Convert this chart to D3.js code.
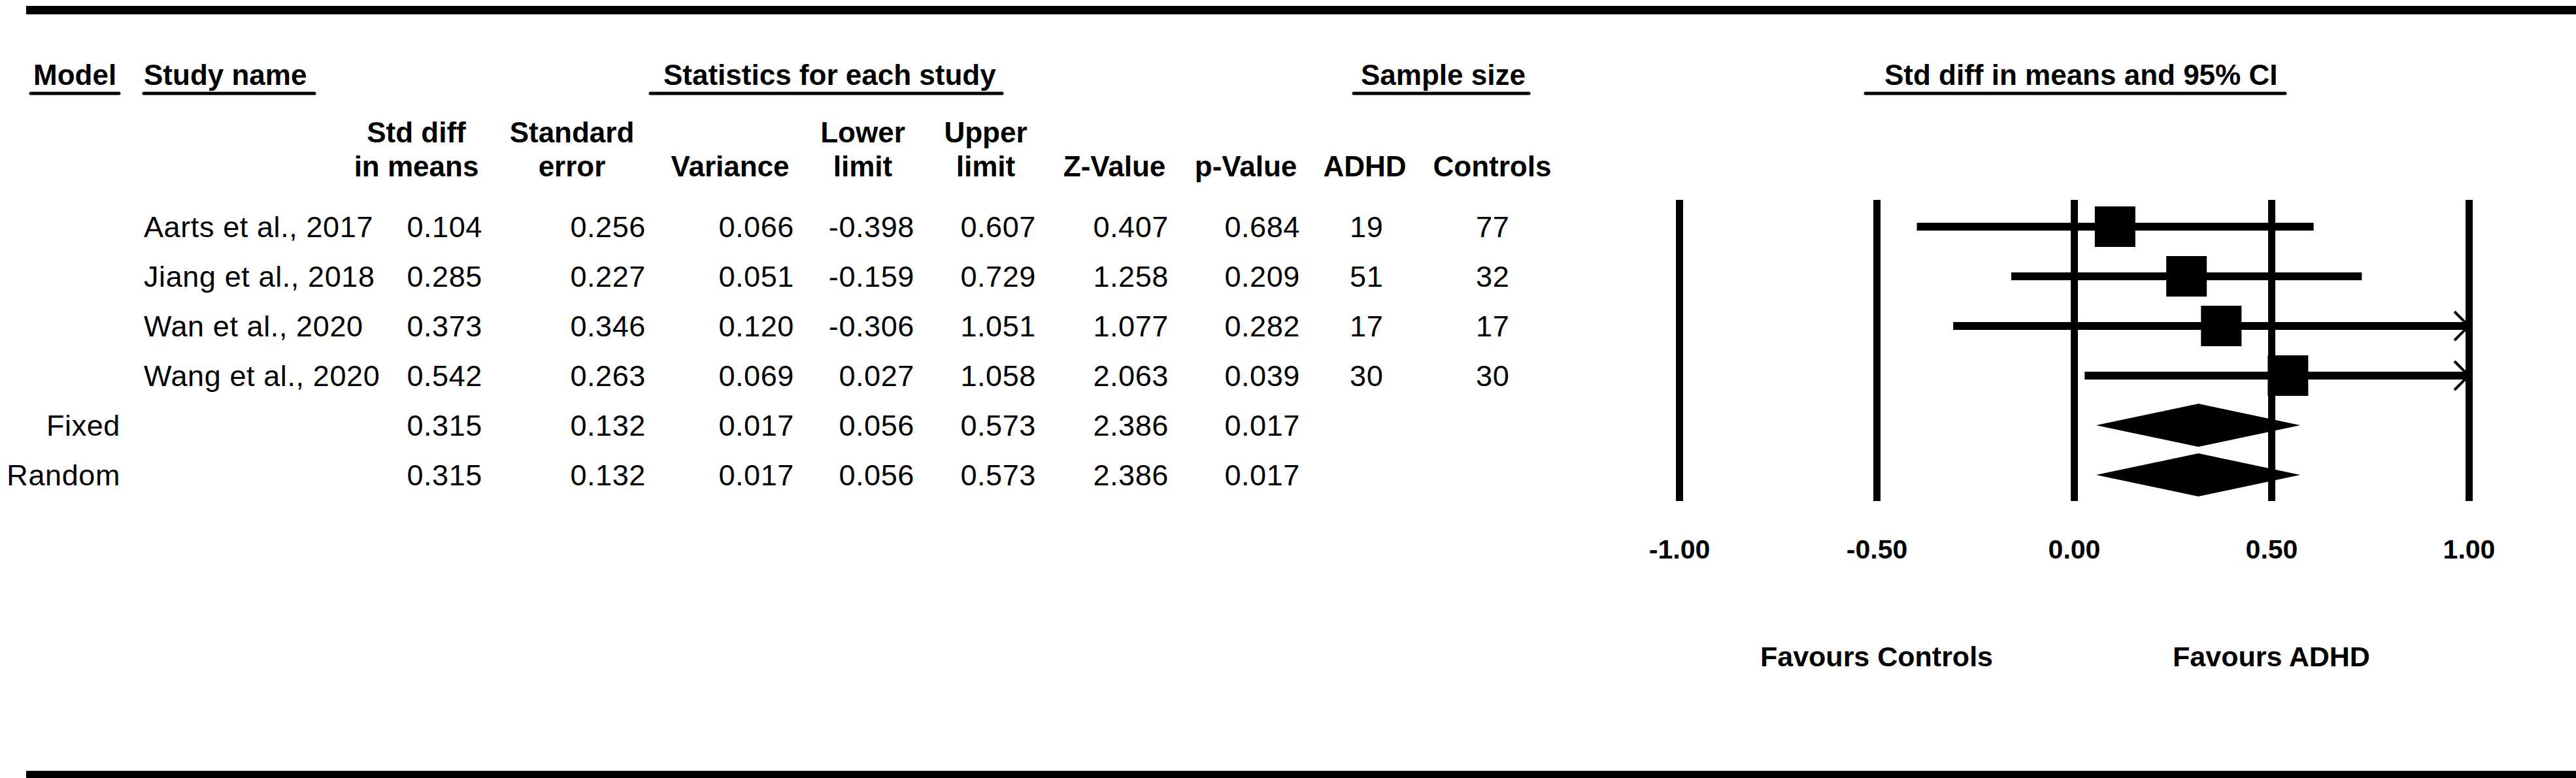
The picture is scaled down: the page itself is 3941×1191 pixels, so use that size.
<!DOCTYPE html>
<html>
<head>
<meta charset="utf-8">
<script src="https://d3js.org/d3.v7.min.js"></script>
<style>
	html, body { margin: 0; padding: 0; background: #fff; }
	svg { display: block; font-family: 'Liberation Sans', Arial, sans-serif; }
	.head { font-weight: bold; font-size: 44px; }
	.cell { font-size: 45px; letter-spacing: 0.6px; }
	.tick text { font-weight: bold; font-size: 41px; font-family: 'Liberation Sans', Arial, sans-serif; }
	.favours { font-weight: bold; font-size: 43px; }
</style>
</head>
<body>
<div id="chart"></div>
<script>

	// rows of the forest plot
	var studies   = ["Aarts et al., 2017", "Jiang et al., 2018", "Wan et al., 2020", "Wang et al., 2020", "", ""];
	var models    = ["", "", "", "", "Fixed", "Random"];
	var stdDiff   = [0.104, 0.285, 0.373, 0.542, 0.315, 0.315];
	var stdErr    = [0.256, 0.227, 0.346, 0.263, 0.132, 0.132];
	var variance  = [0.066, 0.051, 0.120, 0.069, 0.017, 0.017];
	var lower     = [-0.398, -0.159, -0.306, 0.027, 0.056, 0.056];
	var upper     = [0.607, 0.729, 1.051, 1.058, 0.573, 0.573];
	var zValue    = [0.407, 1.258, 1.077, 2.063, 2.386, 2.386];
	var pValue    = [0.684, 0.209, 0.282, 0.039, 0.017, 0.017];
	var nADHD     = [19, 51, 17, 30];
	var nControls = [77, 32, 17, 30];

	var axisTicks = [-1, -0.5, 0, 0.5, 1];
	var favours   = [{ label: "Favours Controls", at: -0.5 }, { label: "Favours ADHD", at: 0.5 }];

	var width = 3941, height = 1191;

	var svg = d3.select("#chart").append("svg")
		.attr("width", width)
		.attr("height", height);

	// top and bottom rules
	svg.append("rect").attr("x", 40).attr("y", 9).attr("width", width - 40).attr("height", 13).attr("fill", "#000");
	svg.append("rect").attr("x", 40).attr("y", 1180).attr("width", width - 40).attr("height", 11).attr("fill", "#000");

	var rowIdx = d3.range(stdDiff.length);
	var yRow = d3.scalePoint().domain(rowIdx).range([347, 727]);
	var xCI = d3.scaleLinear().domain([-1, 1]).range([2569, 3777]);

	// group headers, underlined
	var groups = [
		{ text: "Model", x: 51, u0: 47, u1: 182 },
		{ text: "Study name", x: 220, u0: 220, u1: 481 },
		{ text: "Statistics for each study", x: 1015, u0: 995, u1: 1533 },
		{ text: "Sample size", x: 2082, u0: 2071, u1: 2339 },
		{ text: "Std diff in means and 95% CI", x: 2883, u0: 2854, u1: 3496 }
	];
	svg.selectAll(".grp").data(groups).enter().append("text")
		.attr("class", "head grp")
		.attr("x", function(d){ return d.x; })
		.attr("y", 130)
		.text(function(d){ return d.text; });
	svg.selectAll(".uline").data(groups).enter().append("line")
		.attr("class", "uline")
		.attr("x1", function(d){ return d.u0; })
		.attr("x2", function(d){ return d.u1; })
		.attr("y1", 143).attr("y2", 143)
		.attr("stroke", "#000").attr("stroke-width", 5).attr("stroke-linecap", "round");

	// column headers (two lines, centred)
	var colHeads = [
		{ l1: "Std diff", l2: "in means", x: 637 },
		{ l1: "Standard", l2: "error", x: 875 },
		{ l1: "", l2: "Variance", x: 1117 },
		{ l1: "Lower", l2: "limit", x: 1320 },
		{ l1: "Upper", l2: "limit", x: 1508 },
		{ l1: "", l2: "Z-Value", x: 1705 },
		{ l1: "", l2: "p-Value", x: 1906 },
		{ l1: "", l2: "ADHD", x: 2088 },
		{ l1: "", l2: "Controls", x: 2283 }
	];
	colHeads.forEach(function(c){
		svg.append("text").attr("class", "head").attr("text-anchor", "middle")
			.attr("x", c.x).attr("y", 218).text(c.l1);
		svg.append("text").attr("class", "head").attr("text-anchor", "middle")
			.attr("x", c.x).attr("y", 270).text(c.l2);
	});

	// table body
	var cols = [
		{ vals: models,    x: 184,  anchor: "end",   fmt: function(v){ return v; } },
		{ vals: studies,   x: 220,  anchor: "start", fmt: function(v){ return v; } },
		{ vals: stdDiff,   x: 738,  anchor: "end",   fmt: function(v){ return v.toFixed(3); } },
		{ vals: stdErr,    x: 988,  anchor: "end",   fmt: function(v){ return v.toFixed(3); } },
		{ vals: variance,  x: 1215, anchor: "end",   fmt: function(v){ return v.toFixed(3); } },
		{ vals: lower,     x: 1399, anchor: "end",   fmt: function(v){ return v.toFixed(3); } },
		{ vals: upper,     x: 1585, anchor: "end",   fmt: function(v){ return v.toFixed(3); } },
		{ vals: zValue,    x: 1788, anchor: "end",   fmt: function(v){ return v.toFixed(3); } },
		{ vals: pValue,    x: 1989, anchor: "end",   fmt: function(v){ return v.toFixed(3); } },
		{ vals: nADHD,     x: 2065, anchor: "start", fmt: function(v){ return v; } },
		{ vals: nControls, x: 2258, anchor: "start", fmt: function(v){ return v; } }
	];
	cols.forEach(function(c){
		svg.append("g").selectAll("text")
			.data(c.vals)
			.enter().append("text")
			.attr("class", "cell")
			.attr("text-anchor", c.anchor)
			.attr("x", c.x)
			.attr("y", function(d, i){ return yRow(i) + 16; })
			.text(function(d){ return c.fmt(d); });
	});

	// axis with full-height reference lines
	var plot = svg.append("g");
	var axis = d3.axisBottom(xCI)
		.tickValues(axisTicks)
		.tickSizeInner(-(767 - 306))
		.tickSizeOuter(0)
		.tickPadding(59)
		.tickFormat(function(d){ return d.toFixed(2); });
	var ax = plot.append("g")
		.attr("transform", "translate(0,767)")
		.call(axis);
	ax.select(".domain").remove();
	ax.selectAll(".tick line").attr("stroke", "#000").attr("stroke-width", 11);
	ax.selectAll(".tick text").attr("fill", "#000");

	var studyRows = rowIdx.slice(0, nADHD.length);
	var summaryRows = rowIdx.slice(nADHD.length);

	// confidence intervals, clipped to axis range with arrow
	plot.selectAll(".ci").data(studyRows).enter().append("line")
		.attr("class", "ci")
		.attr("x1", function(i){ return xCI(Math.max(-1, lower[i])); })
		.attr("x2", function(i){ return xCI(Math.min(1, upper[i])); })
		.attr("y1", function(i){ return yRow(i); })
		.attr("y2", function(i){ return yRow(i); })
		.attr("stroke", "#000").attr("stroke-width", 12);

	plot.selectAll(".arrow").data(studyRows.filter(function(i){ return upper[i] > 1; }))
		.enter().append("path")
		.attr("class", "arrow")
		.attr("d", function(i){
			var x = xCI(1), y = yRow(i);
			return "M" + (x - 22) + "," + (y - 22) + "L" + x + "," + y + "L" + (x - 22) + "," + (y + 22);
		})
		.attr("fill", "none").attr("stroke", "#000").attr("stroke-width", 4);

	// point estimates
	var box = 62;
	plot.selectAll(".box").data(studyRows).enter().append("rect")
		.attr("class", "box")
		.attr("x", function(i){ return xCI(stdDiff[i]) - box / 2; })
		.attr("y", function(i){ return yRow(i) - box / 2; })
		.attr("width", box).attr("height", box)
		.attr("fill", "#000");

	// summary diamonds
	plot.selectAll(".diamond").data(summaryRows).enter().append("path")
		.attr("class", "diamond")
		.attr("d", function(i){
			var y = yRow(i), h = 33;
			return "M" + xCI(lower[i]) + "," + y +
				"L" + xCI(stdDiff[i]) + "," + (y - h) +
				"L" + xCI(upper[i]) + "," + y +
				"L" + xCI(stdDiff[i]) + "," + (y + h) + "Z";
		})
		.attr("fill", "#000");

	svg.selectAll(".favours").data(favours).enter().append("text")
		.attr("class", "favours")
		.attr("text-anchor", "middle")
		.attr("x", function(d){ return xCI(d.at); })
		.attr("y", 1020)
		.text(function(d){ return d.label; });

</script>
</body>
</html>
